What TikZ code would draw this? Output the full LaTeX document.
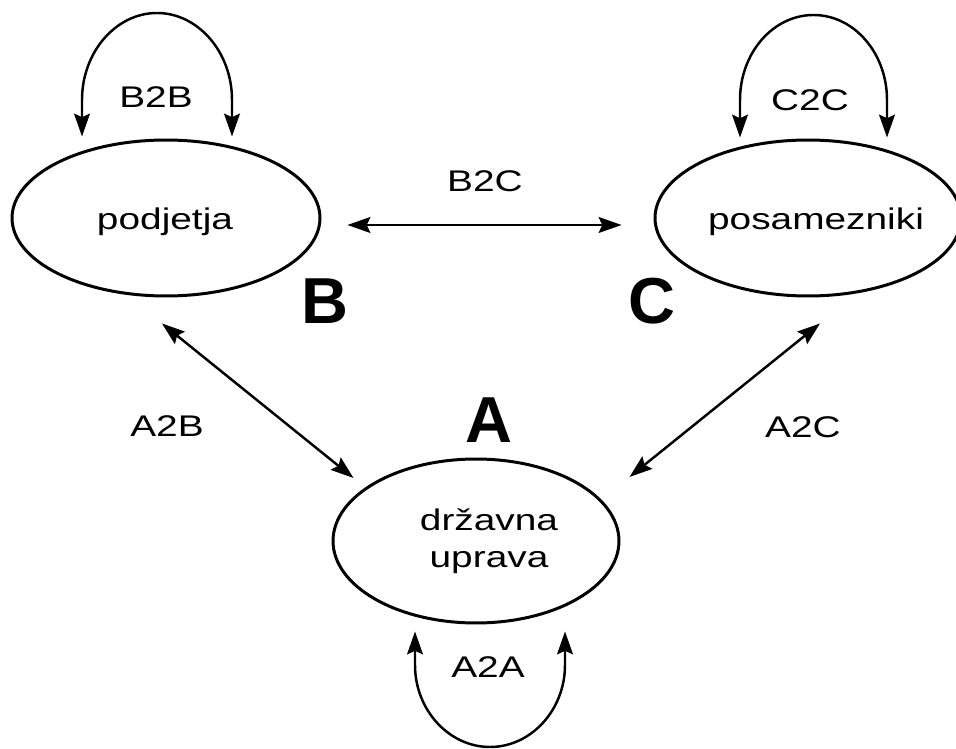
\documentclass[tikz,border=0pt]{standalone}
\usepackage{fontspec}
\usepackage{graphicx}
\setmainfont{Liberation Sans}
\usetikzlibrary{shapes.geometric,arrows.meta,calc}

% horizontally widened text, as set in the diagram
\newcommand{\wide}[1]{\scalebox{1.3}[1]{#1}}

\tikzset{
  party/.style={ellipse, draw, line width=1.7pt, inner sep=0pt},
  flow/.style={line width=1.4pt,
    {Stealth[length=13pt,width=9pt,inset=2pt]}-{Stealth[length=13pt,width=9pt,inset=2pt]}},
  lbl/.style={font=\fontsize{17}{21}\selectfont, inner sep=0pt, align=center},
  bigletter/.style={font=\fontsize{37}{40}\selectfont\bfseries, inner sep=0pt}
}

\begin{document}
\begin{tikzpicture}[x=0.02cm, y=-0.02cm]
\useasboundingbox (0,0) rectangle (956,749);

% the three parties
\node[party, minimum width=6.16cm, minimum height=3.12cm] (B) at (166,218) {};
\node[party, minimum width=6.12cm, minimum height=3.12cm] (C) at (808,218) {};
\node[party, minimum width=5.72cm, minimum height=3.28cm] (A) at (476,541) {};

\node[lbl] (tB) at (165,222) {\wide{podjetja}};
\node[lbl] (tC) at (816,222) {\wide{posamezniki}};
\node[lbl] (tA) at (489,541) {\wide{državna}\\\wide{uprava}};

% big letters
\node[bigletter] (lB) at (325,301) {B};
\node[bigletter] (lC) at (652,301) {C};
\node[bigletter] (lA) at (489,420) {A};

% relations between parties
\draw[flow] ($(B.east)+(26,7)$) -- ($(C.west)+(-32,7)$);
\draw[flow] ($(B.south)+(-4,26)$) -- ($(A.west)+(22,-63)$);
\draw[flow] ($(C.south)+(12,26)$) -- ($(A.east)+(9,-64)$);

% self loops
\coordinate (bbL) at ($(B.north)+(-84,-2)$);
\coordinate (bbR) at ($(B.north)+(66,-2)$);
\draw[flow] (bbL) -- (82,100) .. controls (82,52) and (116,13) .. (157,13)
  .. controls (198,13) and (232,52) .. (232,100) -- (bbR);

\coordinate (ccL) at ($(C.north)+(-68,-1)$);
\coordinate (ccR) at ($(C.north)+(79,-1)$);
\draw[flow] (ccL) -- (740,100) .. controls (740,53) and (773,15) .. (813.5,15)
  .. controls (854,15) and (887,53) .. (887,100) -- (ccR);

\coordinate (aaL) at ($(A.south)+(-61,7)$);
\coordinate (aaR) at ($(A.south)+(89,7)$);
\draw[flow] (aaL) -- (415,665) .. controls (415,710) and (449,747) .. (490,747)
  .. controls (531,747) and (565,710) .. (565,665) -- (aaR);

% relation labels
\node[lbl] (nB2B) at (156,97) {\wide{B2B}};
\node[lbl] (nC2C) at (810,100) {\wide{C2C}};
\node[lbl] (nB2C) at (485,181) {\wide{B2C}};
\node[lbl] (nA2B) at (167,426) {\wide{A2B}};
\node[lbl] (nA2C) at (803,427) {\wide{A2C}};
\node[lbl] (nA2A) at (488,667) {\wide{A2A}};
\end{tikzpicture}
\end{document}
